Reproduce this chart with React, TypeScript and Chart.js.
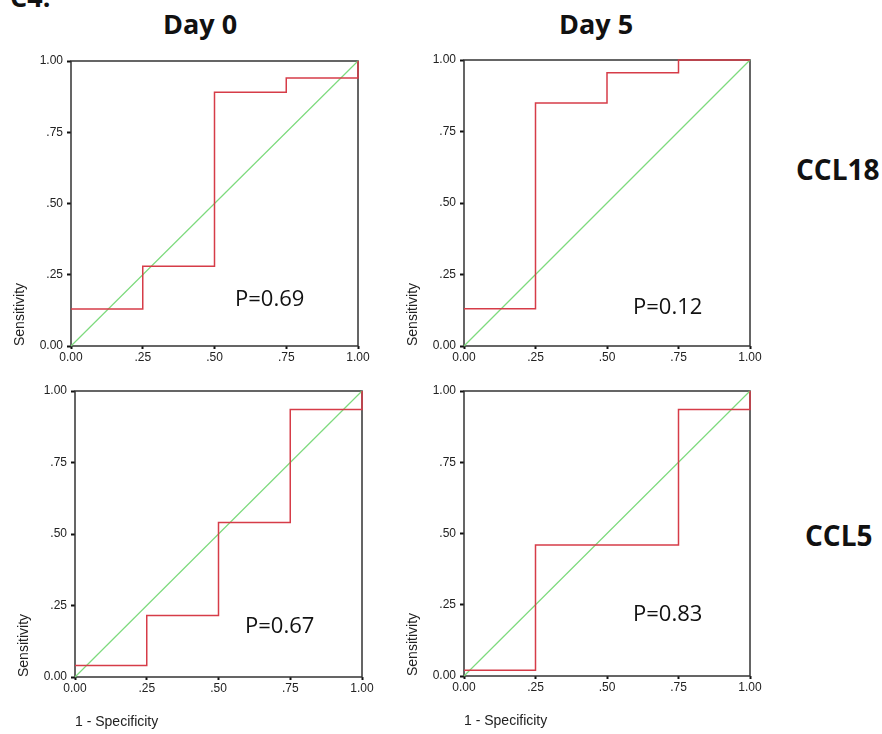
import React, { useEffect, useRef } from "react";
import { Chart, registerables } from "chart.js";

Chart.register(...registerables);

// ---- data ----
const fprSteps = [0, 0.25, 0.5, 0.75, 1];
const sensDay0CCL18 = [0.13, 0.28, 0.89, 0.94, 1];
const sensDay5CCL18 = [0.13, 0.85, 0.955, 1, 1];
const sensDay0CCL5 = [0.04, 0.215, 0.54, 0.935, 1];
const sensDay5CCL5 = [0.02, 0.46, 0.46, 0.935, 1];
const refLine = [0, 1];
const tickValues = [0, 0.25, 0.5, 0.75, 1];
const tickLabels = ["0.00", ".25", ".50", ".75", "1.00"];
const pLabels = ["P=0.69", "P=0.12", "P=0.67", "P=0.83"];
const dayLabels = ["Day 0", "Day 5"];
const markerLabels = ["CCL18", "CCL5"];
const yTitle = "Sensitivity";
const xTitleText = "1 - Specificity";

const RED = "rgb(214, 60, 72)";
const GREEN = "rgb(125, 218, 125)";
const SANS = 'Arial, "Liberation Sans", sans-serif';
const HEAD = '"Open Sans", "Noto Sans", sans-serif';

const frame = {
  id: "frame",
  beforeDatasetsDraw(chart: any) {
    const { ctx, chartArea: a } = chart;
    ctx.save();
    ctx.strokeStyle = "#333";
    ctx.lineWidth = 1.5;
    ctx.strokeRect(a.left, a.top, a.right - a.left, a.bottom - a.top);
    ctx.restore();
  },
};

type PanelProps = {
  sens: number[];
  left: number;
  top: number;
  width: number;
  height: number;
  showXTitle: boolean;
};

function RocPanel({ sens, left, top, width, height, showXTitle }: PanelProps) {
  const ref = useRef<HTMLCanvasElement>(null);
  useEffect(() => {
    const tickFont = { family: SANS, size: 12 };
    const grid = {
      display: true,
      drawOnChartArea: false,
      drawTicks: true,
      tickLength: 4,
      tickColor: "#111",
      tickWidth: 2,
    };
    const chart = new Chart(ref.current as HTMLCanvasElement, {
      type: "line",
      data: {
        datasets: [
          {
            data: fprSteps.map((x, i) => ({ x, y: sens[i] })),
            borderColor: RED,
            borderWidth: 1.5,
            stepped: "before",
            pointRadius: 0,
            clip: false,
            fill: false,
          },
          {
            data: refLine.map((v) => ({ x: v, y: v })),
            borderColor: GREEN,
            borderWidth: 1.2,
            pointRadius: 0,
            clip: false,
            fill: false,
          },
        ],
      } as any,
      options: {
        responsive: false,
        animation: false,
        devicePixelRatio: 1,
        layout: { padding: { top: 12, right: 14, left: 0, bottom: 0 } },
        plugins: { legend: { display: false }, tooltip: { enabled: false } },
        scales: {
          x: {
            type: "linear",
            min: 0,
            max: 1,
            afterBuildTicks: (s: any) => {
              s.ticks = tickValues.map((v) => ({ value: v }));
            },
            afterFit: (s: any) => {
              s.height = showXTitle ? 56 : 24;
            },
            ticks: {
              callback: (_v: any, i: number) => tickLabels[i],
              font: tickFont,
              color: "#222",
              padding: 1,
              maxRotation: 0,
              autoSkip: false,
            },
            grid: { ...grid, tickLength: 3 },
            border: { display: false },
            title: {
              display: showXTitle,
              text: xTitleText,
              align: "start",
              color: "#222",
              font: { family: SANS, size: 14 },
              padding: { top: 0, bottom: 2 },
            },
          },
          y: {
            type: "linear",
            min: 0,
            max: 1,
            afterBuildTicks: (s: any) => {
              s.ticks = tickValues.map((v) => ({ value: v }));
            },
            afterFit: (s: any) => {
              s.width = 60;
            },
            ticks: {
              callback: (_v: any, i: number) => tickLabels[i],
              font: tickFont,
              color: "#222",
              padding: 4,
              autoSkip: false,
            },
            grid,
            border: { display: false },
            title: {
              display: true,
              text: yTitle,
              align: "start",
              color: "#222",
              font: { family: SANS, size: 14 },
              padding: { top: 1, bottom: 0 },
            },
          },
        },
      } as any,
      plugins: [frame],
    });
    return () => chart.destroy();
  }, []);
  return (
    <canvas
      ref={ref}
      width={width}
      height={height}
      style={{ position: "absolute", left, top, width, height }}
    />
  );
}

const textStyle = (left: number, top: number, size: number, weight: number): React.CSSProperties => ({
  position: "absolute",
  left,
  top,
  fontFamily: HEAD,
  fontSize: size,
  fontWeight: weight,
  lineHeight: `${size}px`,
  color: "#111",
  whiteSpace: "nowrap",
});

export default function App() {
  return (
    <div
      style={{
        position: "absolute",
        left: 0,
        top: 0,
        width: 882,
        height: 734,
        overflow: "hidden",
        background: "#fff",
      }}
    >
      <div style={textStyle(10, -17, 27, 700)}>C4.</div>
      <div style={textStyle(163, 10, 27, 700)}>{dayLabels[0]}</div>
      <div style={textStyle(559, 10, 27, 700)}>{dayLabels[1]}</div>
      <div style={textStyle(796, 155, 28, 700)}>{markerLabels[0]}</div>
      <div style={textStyle(805, 521, 28, 700)}>{markerLabels[1]}</div>

      <RocPanel sens={sensDay0CCL18} left={11} top={49} width={361} height={321} showXTitle={false} />
      <RocPanel sens={sensDay5CCL18} left={404} top={48} width={360} height={322} showXTitle={false} />
      <RocPanel sens={sensDay0CCL5} left={15} top={379} width={361} height={354} showXTitle={true} />
      <RocPanel sens={sensDay5CCL5} left={404} top={379} width={360} height={353} showXTitle={true} />

      <div style={textStyle(235, 286, 22, 400)}>{pLabels[0]}</div>
      <div style={textStyle(633, 294, 22, 400)}>{pLabels[1]}</div>
      <div style={textStyle(245, 613, 22, 400)}>{pLabels[2]}</div>
      <div style={textStyle(633, 601, 22, 400)}>{pLabels[3]}</div>
    </div>
  );
}
